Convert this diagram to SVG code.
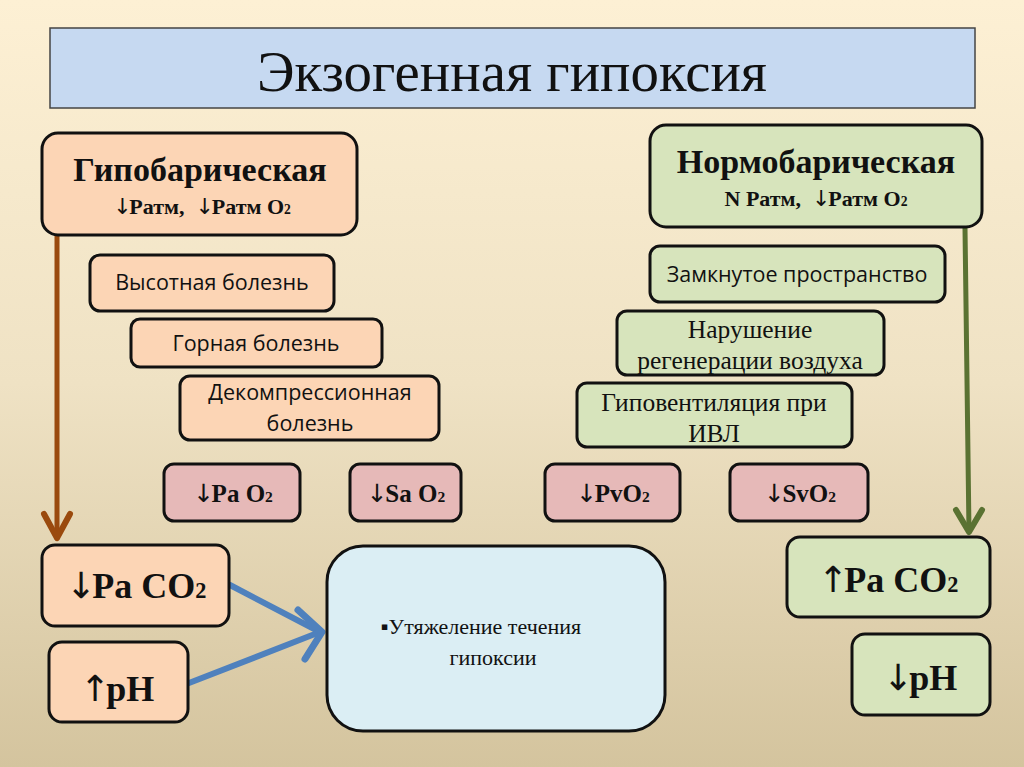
<svg xmlns="http://www.w3.org/2000/svg" width="1024" height="767" viewBox="0 0 1024 767">
<defs>
<linearGradient id="bg" x1="0" y1="0" x2="0" y2="1">
<stop offset="0" stop-color="#fdf0d4"/>
<stop offset="0.5" stop-color="#efe2c4"/>
<stop offset="1" stop-color="#d4c49e"/>
</linearGradient>
</defs>
<style>
.box{stroke:#111;stroke-width:3}
.peach{fill:#fcd5b5}
.green{fill:#d7e4bc}
.pink{fill:#e6b9b8}
.blue{fill:#dbeef4}
.serif{font-family:"Liberation Serif","Times New Roman",serif;fill:#111}
.sans{font-family:"Open Sans","Noto Sans","Liberation Sans",sans-serif;fill:#111}
.b{font-weight:bold}
.sub{font-size:62%}
.ar{font-family:"DejaVu Sans",sans-serif;font-weight:normal;fill:#111;letter-spacing:-0.1em}
</style>
<rect x="0" y="0" width="1024" height="767" fill="url(#bg)"/>

<g id="title">
<rect x="50" y="28" width="925" height="80" fill="#c6d9f1" stroke="#444" stroke-width="1.5"/>
<text x="512" y="91" class="serif" font-size="58" text-anchor="middle" textLength="510" lengthAdjust="spacingAndGlyphs">Экзогенная гипоксия</text>
</g>

<g id="connectors" fill="none" stroke-linecap="round" stroke-linejoin="round">
<line x1="57" y1="236" x2="57" y2="538" stroke="#9a4a0e" stroke-width="5"/>
<polyline points="44,514 57,538 70,514" stroke="#9a4a0e" stroke-width="6"/>
<line x1="965" y1="228" x2="969" y2="532" stroke="#5a7232" stroke-width="5"/>
<polyline points="956,510 969,532 982,510" stroke="#5a7232" stroke-width="6"/>
<line x1="230" y1="585" x2="320" y2="632" stroke="#4f81bd" stroke-width="6"/>
<line x1="189" y1="683" x2="320" y2="632" stroke="#4f81bd" stroke-width="6"/>
<polyline points="298,610 322,632 305,659" stroke="#4f81bd" stroke-width="7"/>
</g>

<g id="hypobaric">
<rect x="42" y="133" width="315" height="102" rx="16" class="box peach"/>
<text x="200" y="181" class="serif b" font-size="34" text-anchor="middle">Гипобарическая</text>
<text x="202" y="214" class="serif b" font-size="22" text-anchor="middle" xml:space="preserve"><tspan class="ar">↓</tspan>Ратм,  <tspan class="ar">↓</tspan>Ратм О<tspan class="sub">2</tspan></text>
</g>

<g id="altitude">
<rect x="90" y="255" width="244" height="56" rx="10" class="box peach"/>
<text x="212" y="290" class="sans" font-size="21.5" text-anchor="middle">Высотная болезнь</text>
</g>

<g id="mountain">
<rect x="131" y="319" width="251" height="48" rx="9" class="box peach"/>
<text x="256" y="351" class="sans" font-size="21.5" text-anchor="middle">Горная болезнь</text>
</g>

<g id="decompression">
<rect x="180" y="376" width="259" height="64" rx="10" class="box peach"/>
<text x="310" y="400" class="sans" font-size="21.5" text-anchor="middle">Декомпрессионная</text>
<text x="310" y="431" class="sans" font-size="21.5" text-anchor="middle">болезнь</text>
</g>

<g id="normobaric">
<rect x="650" y="125" width="332" height="102" rx="16" class="box green"/>
<text x="816" y="173" class="serif b" font-size="34" text-anchor="middle">Нормобарическая</text>
<text x="816" y="206" class="serif b" font-size="22" text-anchor="middle" xml:space="preserve">N Ратм,  <tspan class="ar">↓</tspan>Ратм О<tspan class="sub">2</tspan></text>
</g>

<g id="closed">
<rect x="650" y="246" width="295" height="56" rx="10" class="box green"/>
<text x="797" y="282" class="sans" font-size="21.5" text-anchor="middle">Замкнутое пространство</text>
</g>

<g id="regen">
<rect x="617" y="311" width="267" height="64" rx="10" class="box green"/>
<text x="750" y="338" class="serif" font-size="25.5" text-anchor="middle">Нарушение</text>
<text x="750" y="369" class="serif" font-size="25.5" text-anchor="middle">регенерации воздуха</text>
</g>

<g id="hypovent">
<rect x="577" y="383" width="275" height="64" rx="10" class="box green"/>
<text x="714" y="411" class="serif" font-size="25.5" text-anchor="middle">Гиповентиляция при</text>
<text x="714" y="442" class="serif" font-size="25.5" text-anchor="middle">ИВЛ</text>
</g>

<g id="pao2">
<rect x="164" y="464" width="136" height="57" rx="10" class="box pink"/>
<text x="233" y="502" class="serif b" font-size="25" text-anchor="middle"><tspan class="ar">↓</tspan>Pa O<tspan class="sub">2</tspan></text>
</g>
<g id="sao2">
<rect x="350" y="464" width="111" height="57" rx="10" class="box pink"/>
<text x="406" y="502" class="serif b" font-size="25" text-anchor="middle"><tspan class="ar">↓</tspan>Sa O<tspan class="sub">2</tspan></text>
</g>
<g id="pvo2">
<rect x="545" y="464" width="135" height="57" rx="10" class="box pink"/>
<text x="613" y="502" class="serif b" font-size="25" text-anchor="middle"><tspan class="ar">↓</tspan>PvO<tspan class="sub">2</tspan></text>
</g>
<g id="svo2">
<rect x="730" y="464" width="138" height="57" rx="10" class="box pink"/>
<text x="800" y="502" class="serif b" font-size="25" text-anchor="middle"><tspan class="ar">↓</tspan>SvO<tspan class="sub">2</tspan></text>
</g>

<g id="paco2-low">
<rect x="42" y="545" width="187" height="81" rx="13" class="box peach"/>
<text x="136" y="598" class="serif b" font-size="36" text-anchor="middle"><tspan class="ar">↓</tspan>Pa CO<tspan class="sub">2</tspan></text>
</g>
<g id="ph-high">
<rect x="49" y="642" width="139" height="80" rx="13" class="box peach"/>
<text x="117" y="701" class="serif b" font-size="36" text-anchor="middle"><tspan class="ar">↑</tspan>pH</text>
</g>

<g id="worsening">
<rect x="327" y="546" width="338" height="185" rx="36" class="box blue"/>
<text x="481" y="634" class="serif" font-size="22" text-anchor="middle">▪Утяжеление течения</text>
<text x="493" y="665" class="serif" font-size="22" text-anchor="middle">гипоксии</text>
</g>

<g id="paco2-high">
<rect x="787" y="537" width="203" height="80" rx="13" class="box green"/>
<text x="888" y="592" class="serif b" font-size="36" text-anchor="middle"><tspan class="ar">↑</tspan>Pa CO<tspan class="sub">2</tspan></text>
</g>
<g id="ph-low">
<rect x="852" y="634" width="138" height="81" rx="13" class="box green"/>
<text x="920" y="690" class="serif b" font-size="36" text-anchor="middle"><tspan class="ar">↓</tspan>pH</text>
</g>
</svg>
